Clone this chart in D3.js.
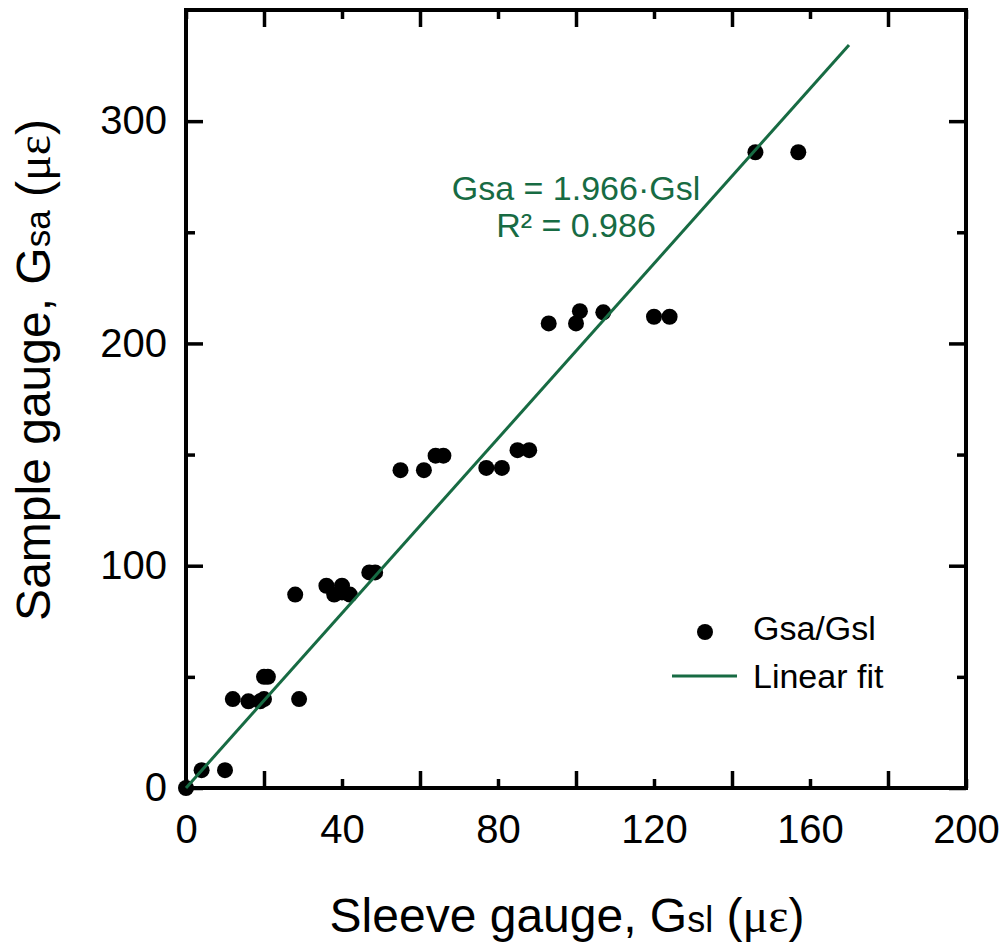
<!DOCTYPE html>
<html>
<head>
<meta charset="utf-8">
<script src="https://cdn.jsdelivr.net/npm/d3@7"></script>
<style>
  body { margin: 0; background: #fff; }
  text { font-family: "Liberation Sans", Arial, sans-serif; }
</style>
</head>
<body>
<div id="root"></div>
<script>
// values
const sleeve = [0, 4, 10, 12, 16, 19, 20, 20, 21, 28, 29, 36, 38, 40, 40, 42, 47, 48.5,
  55, 61, 64, 66, 77, 81, 85, 88, 93, 100, 101, 107, 120, 124, 146, 157];
const sample = [0, 8, 8, 40, 39, 39, 40, 50, 50, 87, 40, 91, 87, 91, 88, 87, 97, 97,
  143, 143, 149.5, 149.5, 144, 144, 152, 152, 209, 209, 214.5, 214, 212, 212, 286, 286];
const fitSlope = 1.966;
const fitRange = [0, 170];
const xLabelTicks = [0, 40, 80, 120, 160, 200];
const xOtherTicks = [20, 60, 100, 140, 180];
const yLabelTicks = [0, 100, 200, 300];
const yOtherTicks = [50, 150, 250];

const green = '#176b43';
const W = 1005, H = 947;

const svg = d3.select('#root').append('svg')
  .attr('width', W)
  .attr('height', H);

const x = d3.scaleLinear().domain([0, 200]).range([186, 966]);
const y = d3.scaleLinear().domain([0, 350]).range([788, 10]);

function styleAxis(g) {
  g.select('.domain').remove();
  g.selectAll('.tick line').attr('stroke', '#000').attr('stroke-width', 3.5);
  g.selectAll('.tick text')
    .attr('fill', '#000')
    .style('font-family', '"Liberation Sans", Arial, sans-serif')
    .style('font-size', '40px');
}

// bottom
svg.append('g').attr('transform', `translate(0,${y(0)})`)
  .call(d3.axisBottom(x).tickValues(xOtherTicks).tickSize(-17).tickFormat(''))
  .call(styleAxis);
svg.append('g').attr('transform', `translate(0,${y(0)})`)
  .call(d3.axisBottom(x).tickValues(xLabelTicks).tickSize(-9).tickPadding(27).tickFormat(d3.format('d')))
  .call(styleAxis);
// top
svg.append('g').attr('transform', `translate(0,${y(350)})`)
  .call(d3.axisTop(x).tickValues(xOtherTicks).tickSize(-17).tickFormat(''))
  .call(styleAxis);
svg.append('g').attr('transform', `translate(0,${y(350)})`)
  .call(d3.axisTop(x).tickValues(xLabelTicks).tickSize(-9).tickFormat(''))
  .call(styleAxis);
// left
svg.append('g').attr('transform', `translate(${x(0)},0)`)
  .call(d3.axisLeft(y).tickValues(yLabelTicks).tickSize(-17).tickPadding(19).tickFormat(d3.format('d')))
  .call(styleAxis);
svg.append('g').attr('transform', `translate(${x(0)},0)`)
  .call(d3.axisLeft(y).tickValues(yOtherTicks).tickSize(-9).tickFormat(''))
  .call(styleAxis);
// right
svg.append('g').attr('transform', `translate(${x(200)},0)`)
  .call(d3.axisRight(y).tickValues(yLabelTicks).tickSize(-17).tickFormat(''))
  .call(styleAxis);
svg.append('g').attr('transform', `translate(${x(200)},0)`)
  .call(d3.axisRight(y).tickValues(yOtherTicks).tickSize(-9).tickFormat(''))
  .call(styleAxis);

// frame
svg.append('rect')
  .attr('x', x(0)).attr('y', y(350))
  .attr('width', x(200) - x(0)).attr('height', y(0) - y(350))
  .attr('fill', 'none').attr('stroke', '#000').attr('stroke-width', 4);

// points
const pts = sleeve.map((v, i) => ({ gsl: v, gsa: sample[i] }));
svg.append('g').selectAll('circle').data(pts).join('circle')
  .attr('cx', d => x(d.gsl))
  .attr('cy', d => y(d.gsa))
  .attr('r', 8)
  .attr('fill', '#000');

// linear fit
svg.append('line')
  .attr('x1', x(fitRange[0])).attr('y1', y(fitSlope * fitRange[0]))
  .attr('x2', x(fitRange[1])).attr('y2', y(fitSlope * fitRange[1]))
  .attr('stroke', green).attr('stroke-width', 3);

// fit annotation
const ann = svg.append('g').attr('fill', green).style('font-size', '34px').attr('text-anchor', 'middle');
ann.append('text').attr('x', 576).attr('y', 200).text('Gsa = 1.966·Gsl');
ann.append('text').attr('x', 576).attr('y', 237).text('R² = 0.986');

// legend
const leg = svg.append('g').style('font-size', '34px');
leg.append('circle').attr('cx', 705).attr('cy', 632).attr('r', 8).attr('fill', '#000');
leg.append('text').attr('x', 753).attr('y', 640).text('Gsa/Gsl');
leg.append('line').attr('x1', 672).attr('x2', 737).attr('y1', 676).attr('y2', 676)
  .attr('stroke', green).attr('stroke-width', 3);
leg.append('text').attr('x', 753).attr('y', 688).text('Linear fit');

// axis titles
const xt = svg.append('text').attr('x', 567).attr('y', 932)
  .attr('text-anchor', 'middle').style('font-size', '48px');
xt.append('tspan').text('Sleeve gauge, G');
xt.append('tspan').style('font-size', '36px').text('sl');
xt.append('tspan').text(' (');
xt.append('tspan').style('font-family', '"Liberation Serif", serif').text('με');
xt.append('tspan').text(')');

const yt = svg.append('text')
  .attr('transform', 'translate(50,370) rotate(-90)')
  .attr('text-anchor', 'middle').style('font-size', '48px');
yt.append('tspan').text('Sample gauge, G');
yt.append('tspan').style('font-size', '35px').text('sa');
yt.append('tspan').text(' (');
yt.append('tspan').style('font-family', '"Liberation Serif", serif').text('με');
yt.append('tspan').text(')');
</script>
</body>
</html>
